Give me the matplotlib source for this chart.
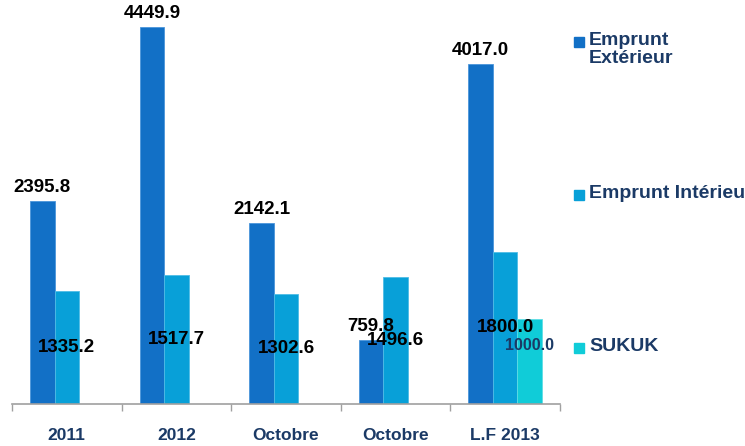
import matplotlib
matplotlib.use("Agg")
import matplotlib.pyplot as plt
import numpy as np

plt.rcParams['font.family'] = ['Liberation Sans', 'DejaVu Sans']

categories = ["2011", "2012", "Octobre\n2012", "Octobre\n2013", "L.F 2013"]
series_names = ["Emprunt\nExtérieur", "Emprunt Intérieur", "SUKUK"]
emprunt_exterieur = [2395.8, 4449.9, 2142.1, 759.8, 4017.0]
emprunt_interieur = [1335.2, 1517.7, 1302.6, 1496.6, 1800.0]
sukuk = [None, None, None, None, 1000.0]

colors = ["#1270C6", "#08A0D8", "#10CCD8"]
edge_colors = ["#4A95DA", "#4FBCE6", "#5FDDE4"]
navy = "#1B3A66"

W, H = 745, 446
fig = plt.figure(figsize=(W / 100, H / 100), dpi=100)
ax = fig.add_axes([12 / W, (H - 404) / H, 548 / W, 404 / H])

x = np.arange(len(categories))
w = 0.224

# Emprunt Extérieur
ax.bar(x - w, emprunt_exterieur, width=w, color=colors[0],
       edgecolor=edge_colors[0], linewidth=0.6, zorder=2)
for xi, v in zip(x, emprunt_exterieur):
    ax.text(xi - w, v + 55, f"{v:.1f}", ha="center", va="bottom",
            fontsize=13.5, fontweight="bold", color="black", zorder=5)

# Emprunt Intérieur
ax.bar(x, emprunt_interieur, width=w, color=colors[1],
       edgecolor=edge_colors[1], linewidth=0.6, zorder=2)
for xi, v in zip(x, emprunt_interieur):
    ax.text(xi, v * 0.5, f"{v:.1f}", ha="center", va="center",
            fontsize=13.5, fontweight="bold", color="black", zorder=5)

# SUKUK
sx = [xi + w for xi, v in zip(x, sukuk) if v is not None]
sv = [v for v in sukuk if v is not None]
ax.bar(sx, sv, width=w, color=colors[2],
       edgecolor=edge_colors[2], linewidth=0.6, zorder=2)
for xi, v in zip(sx, sv):
    ax.text(xi, v * 0.69, f"{v:.1f}", ha="center", va="center",
            fontsize=11.5, fontweight="bold", color=navy, zorder=5)

ax.set_xlim(-0.5, len(categories) - 0.5)
ax.set_ylim(0, 4770)
for s in ["top", "right", "left"]:
    ax.spines[s].set_visible(False)
ax.spines["bottom"].set_color("#A0A0A0")
ax.spines["bottom"].set_linewidth(1.2)
ax.set_yticks([])
ax.set_xticks(np.arange(-0.5, len(categories), 1.0), minor=False)
ax.set_xticklabels([])
ax.tick_params(axis="x", which="major", length=5, color="#A0A0A0", width=1.0)
ax.set_xticks(x, minor=True)
ax.set_xticklabels(categories, minor=True, fontsize=12.5, fontweight="bold",
                   color=navy, va="top", linespacing=1.3)
ax.tick_params(axis="x", which="minor", length=0, pad=17)

# Legend (manual placement on the right)
legend_items = [(series_names[0], colors[0], 42),
                (series_names[1], colors[1], 195),
                (series_names[2], colors[2], 348)]
for name, col, ypix in legend_items:
    fig.patches.append(plt.Rectangle((574 / W, 1 - (ypix + 5) / H), 10 / W, 10 / H,
                                     transform=fig.transFigure, color=col))
    fig.text(589 / W, 1 - (ypix - 10) / H, name, ha="left", va="top",
             fontsize=14, fontweight="bold", color=navy, linespacing=1.1)

fig.savefig("out.png", dpi=100)
